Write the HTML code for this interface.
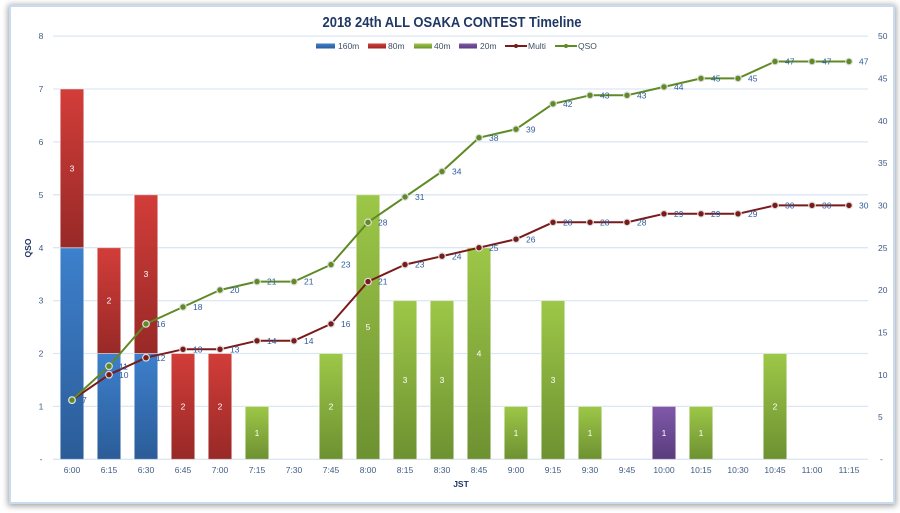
<!DOCTYPE html>
<html>
<head>
<meta charset="utf-8">
<style>
  html,body{margin:0;padding:0;background:#ffffff;}
  body{width:900px;height:513px;position:relative;overflow:hidden;font-family:"Liberation Sans",sans-serif;}
  .frame{position:absolute;left:9px;top:5px;width:882px;height:495px;border:2px solid #C9DBEF;background:#fff;box-shadow:0 1px 6px 1px rgba(0,0,0,0.38);}
  svg{position:absolute;left:0;top:0;}
</style>
</head>
<body>
<div class="frame"></div>
<svg width="900" height="513" viewBox="0 0 900 513" xmlns="http://www.w3.org/2000/svg" font-family="Liberation Sans, sans-serif">
  <defs>
    <linearGradient id="gB" x1="0" y1="0" x2="0" y2="1"><stop offset="0" stop-color="#3D80CC"/><stop offset="1" stop-color="#2B5C98"/></linearGradient>
    <linearGradient id="gR" x1="0" y1="0" x2="0" y2="1"><stop offset="0" stop-color="#D23D39"/><stop offset="1" stop-color="#982927"/></linearGradient>
    <linearGradient id="gG" x1="0" y1="0" x2="0" y2="1"><stop offset="0" stop-color="#9DC748"/><stop offset="1" stop-color="#6D9131"/></linearGradient>
    <linearGradient id="gP" x1="0" y1="0" x2="0" y2="1"><stop offset="0" stop-color="#8059A9"/><stop offset="1" stop-color="#593C7D"/></linearGradient>
  </defs>

  <!-- Title -->
  <text x="452" y="27" text-anchor="middle" font-size="15" font-weight="bold" fill="#1F3864" textLength="259" lengthAdjust="spacingAndGlyphs">2018 24th ALL OSAKA CONTEST Timeline</text>

  <!-- Legend -->
  <g font-size="8.5" fill="#3E4F66">
    <rect x="316" y="43.5" width="19" height="5" fill="url(#gB)"/><text x="338" y="49">160m</text>
    <rect x="368" y="43.5" width="18" height="5" fill="url(#gR)"/><text x="388" y="49">80m</text>
    <rect x="414" y="43.5" width="18" height="5" fill="url(#gG)"/><text x="434" y="49">40m</text>
    <rect x="459" y="43.5" width="18" height="5" fill="url(#gP)"/><text x="480" y="49">20m</text>
    <line x1="505" y1="46" x2="527" y2="46" stroke="#7A1A1A" stroke-width="2"/><circle cx="516" cy="46" r="2" fill="#7A1A1A"/><text x="528" y="49">Multi</text>
    <line x1="555" y1="46" x2="577" y2="46" stroke="#5F8A25" stroke-width="2"/><circle cx="566" cy="46" r="2" fill="#5F8A25"/><text x="578" y="49">QSO</text>
  </g>

  <!-- Gridlines -->
  <g stroke="#DCE7F4" stroke-width="1.3">
    <line x1="53" y1="36.1" x2="868" y2="36.1"/>
    <line x1="53" y1="89.0" x2="868" y2="89.0"/>
    <line x1="53" y1="141.9" x2="868" y2="141.9"/>
    <line x1="53" y1="194.8" x2="868" y2="194.8"/>
    <line x1="53" y1="247.7" x2="868" y2="247.7"/>
    <line x1="53" y1="300.6" x2="868" y2="300.6"/>
    <line x1="53" y1="353.5" x2="868" y2="353.5"/>
    <line x1="53" y1="406.4" x2="868" y2="406.4"/>
    <line x1="53" y1="459.3" x2="868" y2="459.3"/>
  </g>

  <!-- Left axis labels -->
  <g font-size="8.5" fill="#3F5B86" text-anchor="middle">
    <text x="41" y="39.2">8</text>
    <text x="41" y="92.1">7</text>
    <text x="41" y="145">6</text>
    <text x="41" y="197.9">5</text>
    <text x="41" y="250.8">4</text>
    <text x="41" y="303.7">3</text>
    <text x="41" y="356.6">2</text>
    <text x="41" y="409.5">1</text>
    <text x="41" y="462">-</text>
  </g>
  <text transform="translate(31,248) rotate(-90)" text-anchor="middle" font-size="8.5" font-weight="bold" fill="#1F3864">QSO</text>

  <!-- Right axis labels -->
  <g font-size="8.5" fill="#3F5B86">
    <text x="878" y="39.2">50</text>
    <text x="878" y="81.5">45</text>
    <text x="878" y="123.8">40</text>
    <text x="878" y="166.2">35</text>
    <text x="878" y="208.5">30</text>
    <text x="878" y="250.8">25</text>
    <text x="878" y="293.1">20</text>
    <text x="878" y="335.4">15</text>
    <text x="878" y="377.8">10</text>
    <text x="878" y="420.1">5</text>
    <text x="880" y="462">-</text>
  </g>

  <!-- Bars -->
  <g stroke="#ffffff" stroke-opacity="0.45" stroke-width="1">
    <rect x="60.25" y="247.7" width="23.5" height="211.6" fill="url(#gB)"/>
    <rect x="60.25" y="89.0" width="23.5" height="158.7" fill="url(#gR)"/>
    <rect x="97.25" y="353.5" width="23.5" height="105.8" fill="url(#gB)"/>
    <rect x="97.25" y="247.7" width="23.5" height="105.8" fill="url(#gR)"/>
    <rect x="134.25" y="353.5" width="23.5" height="105.8" fill="url(#gB)"/>
    <rect x="134.25" y="194.8" width="23.5" height="158.7" fill="url(#gR)"/>
    <rect x="171.25" y="353.5" width="23.5" height="105.8" fill="url(#gR)"/>
    <rect x="208.25" y="353.5" width="23.5" height="105.8" fill="url(#gR)"/>
    <rect x="245.25" y="406.4" width="23.5" height="52.9" fill="url(#gG)"/>
    <rect x="319.25" y="353.5" width="23.5" height="105.8" fill="url(#gG)"/>
    <rect x="356.25" y="194.8" width="23.5" height="264.5" fill="url(#gG)"/>
    <rect x="393.25" y="300.6" width="23.5" height="158.7" fill="url(#gG)"/>
    <rect x="430.25" y="300.6" width="23.5" height="158.7" fill="url(#gG)"/>
    <rect x="467.25" y="247.7" width="23.5" height="211.6" fill="url(#gG)"/>
    <rect x="504.25" y="406.4" width="23.5" height="52.9" fill="url(#gG)"/>
    <rect x="541.25" y="300.6" width="23.5" height="158.7" fill="url(#gG)"/>
    <rect x="578.25" y="406.4" width="23.5" height="52.9" fill="url(#gG)"/>
    <rect x="652.25" y="406.4" width="23.5" height="52.9" fill="url(#gP)"/>
    <rect x="689.25" y="406.4" width="23.5" height="52.9" fill="url(#gG)"/>
    <rect x="763.25" y="353.5" width="23.5" height="105.8" fill="url(#gG)"/>
  </g>

  <!-- Bar labels -->
  <g font-size="8.5" fill="#ffffff" text-anchor="middle">
    <text x="72" y="171.5">3</text>
    <text x="109" y="303.7">2</text>
    <text x="146" y="277.2">3</text>
    <text x="183" y="409.5">2</text>
    <text x="220" y="409.5">2</text>
    <text x="257" y="435.9">1</text>
    <text x="331" y="409.5">2</text>
    <text x="368" y="330.1">5</text>
    <text x="405" y="383">3</text>
    <text x="442" y="383">3</text>
    <text x="479" y="356.6">4</text>
    <text x="516" y="435.9">1</text>
    <text x="553" y="383">3</text>
    <text x="590" y="435.9">1</text>
    <text x="664" y="435.9">1</text>
    <text x="701" y="435.9">1</text>
    <text x="775" y="409.5">2</text>
  </g>

  <!-- Multi line -->
  <polyline fill="none" stroke="#7A1A1A" stroke-width="2" stroke-linejoin="round"
    points="72,400.1 109,374.7 146,357.7 183,349.3 220,349.3 257,340.8 294,340.8 331,323.9 368,281.6 405,264.6 442,256.2 479,247.7 516,239.2 553,222.3 590,222.3 627,222.3 664,213.8 701,213.8 738,213.8 775,205.4 812,205.4 849,205.4"/>
  <!-- QSO line -->
  <polyline fill="none" stroke="#5F8A25" stroke-width="2" stroke-linejoin="round"
    points="72,400.1 109,366.2 146,323.9 183,307.0 220,290.0 257,281.6 294,281.6 331,264.6 368,222.3 405,196.9 442,171.5 479,137.7 516,129.2 553,103.8 590,95.3 627,95.3 664,86.9 701,78.4 738,78.4 775,61.5 812,61.5 849,61.5"/>

  <!-- Multi markers -->
  <g fill="#7A1A1A" stroke="#DDDDDD" stroke-width="1.2">
    <circle cx="72" cy="400.1" r="3.3"/><circle cx="109" cy="374.7" r="3.3"/><circle cx="146" cy="357.7" r="3.3"/><circle cx="183" cy="349.3" r="3.3"/><circle cx="220" cy="349.3" r="3.3"/><circle cx="257" cy="340.8" r="3.3"/><circle cx="294" cy="340.8" r="3.3"/><circle cx="331" cy="323.9" r="3.3"/><circle cx="368" cy="281.6" r="3.3"/><circle cx="405" cy="264.6" r="3.3"/><circle cx="442" cy="256.2" r="3.3"/><circle cx="479" cy="247.7" r="3.3"/><circle cx="516" cy="239.2" r="3.3"/><circle cx="553" cy="222.3" r="3.3"/><circle cx="590" cy="222.3" r="3.3"/><circle cx="627" cy="222.3" r="3.3"/><circle cx="664" cy="213.8" r="3.3"/><circle cx="701" cy="213.8" r="3.3"/><circle cx="738" cy="213.8" r="3.3"/><circle cx="775" cy="205.4" r="3.3"/><circle cx="812" cy="205.4" r="3.3"/><circle cx="849" cy="205.4" r="3.3"/>
  </g>
  <!-- QSO markers -->
  <g fill="#5F8A25" stroke="#DDDDDD" stroke-width="1.2">
    <circle cx="72" cy="400.1" r="3.3"/><circle cx="109" cy="366.2" r="3.3"/><circle cx="146" cy="323.9" r="3.3"/><circle cx="183" cy="307.0" r="3.3"/><circle cx="220" cy="290.0" r="3.3"/><circle cx="257" cy="281.6" r="3.3"/><circle cx="294" cy="281.6" r="3.3"/><circle cx="331" cy="264.6" r="3.3"/><circle cx="368" cy="222.3" r="3.3"/><circle cx="405" cy="196.9" r="3.3"/><circle cx="442" cy="171.5" r="3.3"/><circle cx="479" cy="137.7" r="3.3"/><circle cx="516" cy="129.2" r="3.3"/><circle cx="553" cy="103.8" r="3.3"/><circle cx="590" cy="95.3" r="3.3"/><circle cx="627" cy="95.3" r="3.3"/><circle cx="664" cy="86.9" r="3.3"/><circle cx="701" cy="78.4" r="3.3"/><circle cx="738" cy="78.4" r="3.3"/><circle cx="775" cy="61.5" r="3.3"/><circle cx="812" cy="61.5" r="3.3"/><circle cx="849" cy="61.5" r="3.3"/>
  </g>

  <!-- Line data labels -->
  <g font-size="8.5" fill="#2E5C9C">
    <text x="82" y="403.2">7</text>
    <text x="119" y="377.8">10</text>
    <text x="156" y="360.8">12</text>
    <text x="193" y="352.4">13</text>
    <text x="230" y="352.4">13</text>
    <text x="267" y="343.9">14</text>
    <text x="304" y="343.9">14</text>
    <text x="341" y="327">16</text>
    <text x="378" y="284.7">21</text>
    <text x="415" y="267.7">23</text>
    <text x="452" y="259.3">24</text>
    <text x="489" y="250.8">25</text>
    <text x="526" y="242.3">26</text>
    <text x="563" y="225.4">28</text>
    <text x="600" y="225.4">28</text>
    <text x="637" y="225.4">28</text>
    <text x="674" y="216.9">29</text>
    <text x="711" y="216.9">29</text>
    <text x="748" y="216.9">29</text>
    <text x="785" y="208.5">30</text>
    <text x="822" y="208.5">30</text>
    <text x="859" y="208.5">30</text>

    <text x="119" y="369.3">11</text>
    <text x="156" y="327">16</text>
    <text x="193" y="310.1">18</text>
    <text x="230" y="293.1">20</text>
    <text x="267" y="284.7">21</text>
    <text x="304" y="284.7">21</text>
    <text x="341" y="267.7">23</text>
    <text x="378" y="225.4">28</text>
    <text x="415" y="200">31</text>
    <text x="452" y="174.6">34</text>
    <text x="489" y="140.8">38</text>
    <text x="526" y="132.3">39</text>
    <text x="563" y="106.9">42</text>
    <text x="600" y="98.4">43</text>
    <text x="637" y="98.4">43</text>
    <text x="674" y="90">44</text>
    <text x="711" y="81.5">45</text>
    <text x="748" y="81.5">45</text>
    <text x="785" y="64.6">47</text>
    <text x="822" y="64.6">47</text>
    <text x="859" y="64.6">47</text>
  </g>

  <!-- X axis labels -->
  <g font-size="8.5" fill="#3F5B86" text-anchor="middle">
    <text x="72" y="473">6:00</text>
    <text x="109" y="473">6:15</text>
    <text x="146" y="473">6:30</text>
    <text x="183" y="473">6:45</text>
    <text x="220" y="473">7:00</text>
    <text x="257" y="473">7:15</text>
    <text x="294" y="473">7:30</text>
    <text x="331" y="473">7:45</text>
    <text x="368" y="473">8:00</text>
    <text x="405" y="473">8:15</text>
    <text x="442" y="473">8:30</text>
    <text x="479" y="473">8:45</text>
    <text x="516" y="473">9:00</text>
    <text x="553" y="473">9:15</text>
    <text x="590" y="473">9:30</text>
    <text x="627" y="473">9:45</text>
    <text x="664" y="473">10:00</text>
    <text x="701" y="473">10:15</text>
    <text x="738" y="473">10:30</text>
    <text x="775" y="473">10:45</text>
    <text x="812" y="473">11:00</text>
    <text x="849" y="473">11:15</text>
  </g>
  <text x="461" y="487" text-anchor="middle" font-size="8.5" font-weight="bold" fill="#1F3864">JST</text>
</svg>
</body>
</html>
